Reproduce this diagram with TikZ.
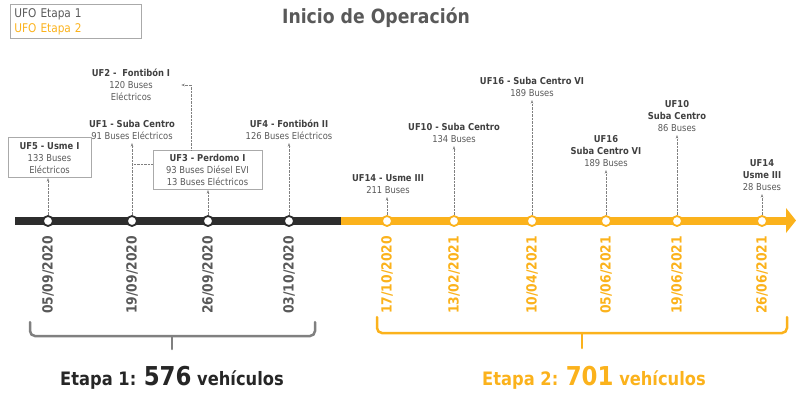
\documentclass[tikz,border=0pt]{standalone}
\usepackage{fontspec}
\setmainfont{DejaVu Sans}[FakeStretch=0.88]
\usetikzlibrary{arrows.meta}
\definecolor{orangec}{RGB}{251,178,28}
\definecolor{darkc}{RGB}{45,45,45}
\definecolor{textc}{RGB}{89,89,89}
\definecolor{headc}{RGB}{64,64,64}
\definecolor{linkc}{RGB}{128,128,128}
\definecolor{framec}{RGB}{170,170,170}
\newcommand{\ufhead}[1]{{\bfseries\color{headc}#1}}

\begin{document}
\begin{tikzpicture}[x=1pt, y=-1pt,
  every node/.style={font=\fontsize{9.5}{12}\selectfont, text=textc},
  lab/.style={align=center, inner sep=3pt},
  ufbox/.style={lab, draw=framec, fill=white, line width=0.8pt},
  stopdot/.style={circle, fill=white, draw=#1, line width=1.8pt, minimum size=10pt, inner sep=0pt},
  datelab/.style={rotate=90, anchor=east, inner sep=0pt, font=\bfseries\fontsize{14}{14}\selectfont},
  link/.style={draw=linkc, line width=0.6pt, dash pattern=on 0.7pt off 0.7pt, -{Stealth[length=3.5pt,width=2.5pt]}},
  stagebrace/.style={line width=2.5pt, rounded corners=5pt, line cap=round}]
  \useasboundingbox (0,0) rectangle (796,392);
  % legend and title
  \node[draw=framec, line width=0.8pt, anchor=north west, align=left, text width=123pt, inner sep=4pt,
    minimum height=34pt, font=\fontsize{12}{15}\selectfont] (legend) at (10,4)
    {UFO Etapa 1\\\textcolor{orangec}{UFO Etapa 2}};
  \node[font=\bfseries\fontsize{19.6}{20}\selectfont] (title) at (376,18) {Inicio de Operación};
  % timeline
  \draw[line width=8pt, darkc] (15,221) -- (341,221);
  \draw[line width=8pt, orangec] (341,221) -- (787,221);
  \fill[orangec] (786,208) -- (796,220.5) -- (786,233) -- cycle;
  \foreach \x/\dat [count=\i] in {48/{05/09/2020},132/{19/09/2020},208/{26/09/2020},289/{03/10/2020}} {
    \node[stopdot=darkc] (t\i) at (\x,221) {};
    \node[datelab, text=textc] (d\i) at (\x,236) {\dat};
  }
  \foreach \x/\dat [count=\i from 5] in {387/{17/10/2020},454/{13/02/2021},532/{10/04/2021},606/{05/06/2021},677/{19/06/2021},762/{26/06/2021}} {
    \node[stopdot=orangec] (t\i) at (\x,221) {};
    \node[datelab, text=orangec] (d\i) at (\x,236) {\dat};
  }
  % etapa 1
  \node[ufbox, minimum width=83pt, minimum height=40pt, anchor=south] (uf5) at (49.5,178)
    {\ufhead{UF5 - Usme I}\\133 Buses\\Eléctricos};
  \node[lab, anchor=south] (uf1) at (132,143) {\ufhead{UF1 - Suba Centro}\\91 Buses Eléctricos};
  \node[lab] (uf2) at (131,85) {\ufhead{UF2 -\ \ Fontibón I}\\120 Buses\\Eléctricos};
  \node[ufbox, minimum width=109pt, minimum height=39pt, anchor=south] (uf3) at (207.5,190)
    {\ufhead{UF3 - Perdomo I}\\93 Buses Diésel EVI\\13 Buses Eléctricos};
  \node[lab, anchor=south] (uf4) at (289,143) {\ufhead{UF4 - Fontibón II}\\126 Buses Eléctricos};
  % etapa 2
  \node[lab, anchor=south] (uf14a) at (388,197) {\ufhead{UF14 - Usme III}\\211 Buses};
  \node[lab, anchor=south] (uf10a) at (454,146) {\ufhead{UF10 - Suba Centro}\\134 Buses};
  \node[lab, anchor=south] (uf16a) at (532,100) {\ufhead{UF16 - Suba Centro VI}\\189 Buses};
  \node[lab, anchor=south] (uf16b) at (606,170) {\ufhead{UF16}\\\ufhead{Suba Centro VI}\\189 Buses};
  \node[lab, anchor=south] (uf10b) at (677,135) {\ufhead{UF10}\\\ufhead{Suba Centro}\\86 Buses};
  \node[lab, anchor=south] (uf14b) at (762,194) {\ufhead{UF14}\\\ufhead{Usme III}\\28 Buses};
  % connectors
  \foreach \t/\u in {t1/uf5,t2/uf1,t3/uf3,t4/uf4,t5/uf14a,t6/uf10a,t7/uf16a,t8/uf16b,t9/uf10b,t10/uf14b}
    \draw[link] (\t) -- (\t |- \u.south);
  \coordinate (uf3w) at ([yshift=6pt]uf3.west);
  \draw[link, -] (uf3w) -- (uf3w -| t2);
  \coordinate (uf2in) at ([xshift=8pt]uf2.east);
  \draw[link] ([xshift=-16pt]uf3.north) |- (uf2in);
  % stages
  \draw[stagebrace, draw=linkc] (30,322) -- (30,336) -- (315,336) -- (315,322);
  \draw[stagebrace, draw=linkc] (172,336) -- (172,349);
  \draw[stagebrace, draw=orangec] (377,317) -- (377,333) -- (787,333) -- (787,317);
  \draw[stagebrace, draw=orangec] (582,333) -- (582,348);
  \node[anchor=base, font=\bfseries\fontsize{18.5}{20}\selectfont, text=black!85] (et1) at (172,385)
    {Etapa 1: {\fontsize{26}{26}\selectfont 576} vehículos};
  \node[anchor=base, font=\bfseries\fontsize{18.5}{20}\selectfont, text=orangec] (et2) at (594,385)
    {Etapa 2: {\fontsize{26}{26}\selectfont 701} vehículos};
\end{tikzpicture}
\end{document}
